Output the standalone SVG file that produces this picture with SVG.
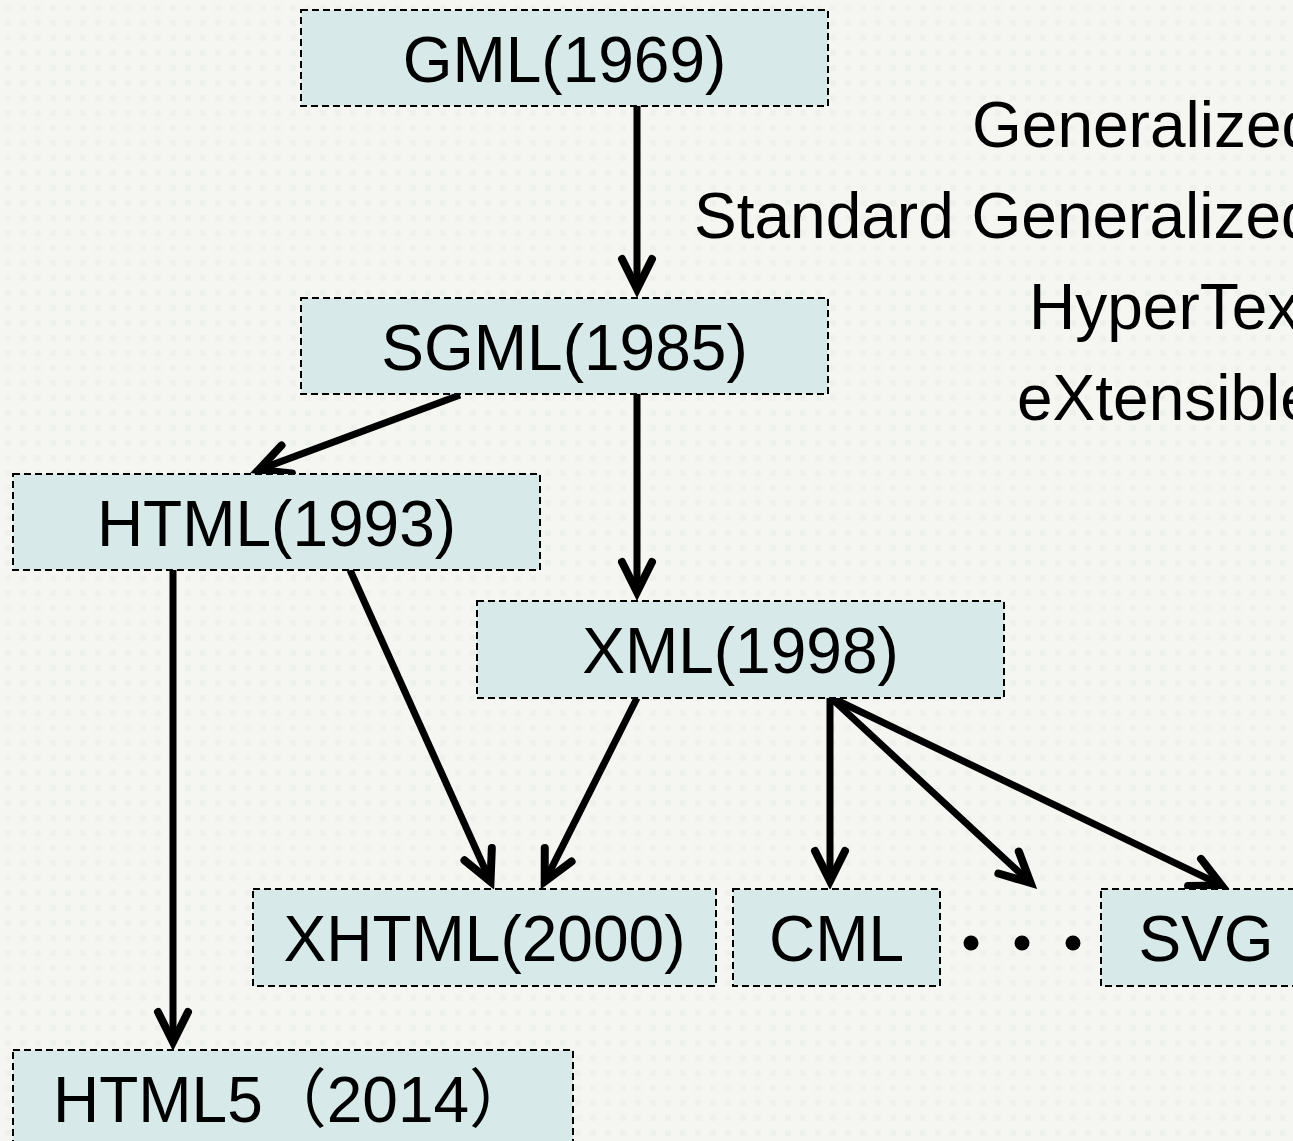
<svg xmlns="http://www.w3.org/2000/svg" width="1293" height="1141" viewBox="0 0 1293 1141">
<defs>
<pattern id="bgp" width="15" height="15" patternUnits="userSpaceOnUse">
<rect width="15" height="15" fill="#f5f6f2"/>
<rect x="5" y="5" width="6" height="6" fill="#eff1ec"/>
</pattern>
<marker id="arr" markerUnits="userSpaceOnUse" markerWidth="44" markerHeight="44" viewBox="-38 -22 44 44" refX="0" refY="0" orient="auto" overflow="visible">
<path d="M-30,-15 L0,0 L-30,15" fill="none" stroke="#000" stroke-width="8" stroke-linecap="round" stroke-linejoin="miter"/>
</marker>
</defs>
<style>
.box{fill:#d8e9e9;stroke:#000;stroke-width:2;stroke-dasharray:7 4}
.lbl{font-family:"Liberation Sans","Noto Sans CJK SC",Arial,sans-serif;font-size:64px;fill:#000;text-anchor:middle}
.note{font-family:"Liberation Sans",Arial,sans-serif;font-size:64px;fill:#000}
.conn line{stroke:#000;stroke-width:7;marker-end:url(#arr)}
</style>
<rect width="1293" height="1141" fill="url(#bgp)"/>

<g id="notes">
<text class="note" x="972" y="147">Generalized</text>
<text class="note" x="694" y="238">Standard Generalized</text>
<text class="note" x="1029" y="329">HyperText</text>
<text class="note" x="1017" y="420">eXtensible</text>
</g>

<g id="connectors" class="conn">
<line x1="637" y1="106" x2="637" y2="289"/>
<line x1="460" y1="395" x2="258.6" y2="469.9"/>
<line x1="637" y1="394" x2="637" y2="592"/>
<line x1="173" y1="570" x2="173" y2="1042"/>
<line x1="350" y1="570" x2="490.5" y2="881.5"/>
<line x1="637" y1="698" x2="544.7" y2="881.6"/>
<line x1="830" y1="697" x2="830" y2="881"/>
<line x1="830" y1="697" x2="1030.6" y2="882.9"/>
<line x1="830" y1="697" x2="1221.6" y2="885.4"/>
</g>

<g id="gml">
<rect class="box" x="301" y="10" width="527" height="96"/>
<text class="lbl" x="564.5" y="82">GML(1969)</text>
</g>
<g id="sgml">
<rect class="box" x="301" y="298" width="527" height="96"/>
<text class="lbl" x="564.5" y="370">SGML(1985)</text>
</g>
<g id="html">
<rect class="box" x="13" y="474" width="527" height="96"/>
<text class="lbl" x="276.5" y="546">HTML(1993)</text>
</g>
<g id="xml">
<rect class="box" x="477" y="601" width="527" height="97"/>
<text class="lbl" x="740.5" y="673">XML(1998)</text>
</g>
<g id="xhtml">
<rect class="box" x="253" y="889" width="463" height="97"/>
<text class="lbl" x="484.5" y="961">XHTML(2000)</text>
</g>
<g id="cml">
<rect class="box" x="733" y="889" width="207" height="97"/>
<text class="lbl" x="836.5" y="961">CML</text>
</g>
<g id="ellipsis">
<circle cx="971" cy="943" r="7.5"/>
<circle cx="1022" cy="943" r="7.5"/>
<circle cx="1073" cy="943" r="7.5"/>
</g>
<g id="svg">
<rect class="box" x="1101" y="889" width="210" height="97"/>
<text class="lbl" x="1206" y="961">SVG</text>
</g>
<g id="html5">
<rect class="box" x="13" y="1050" width="560" height="110"/>
<text class="lbl" x="293" y="1122">HTML5（2014）</text>
</g>
</svg>
